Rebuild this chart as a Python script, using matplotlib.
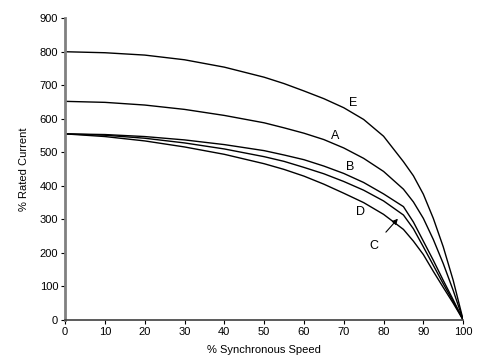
import matplotlib
matplotlib.use('Agg')
import matplotlib.pyplot as plt

# % synchronous speed (x) and % rated current for each curve
speed = [0, 10, 20, 30, 40, 50, 55, 60, 65, 70, 75, 80, 85, 87.5, 90, 92.5, 95, 97.5, 100]
curve_e = [800, 797, 790, 776, 754, 724, 705, 683, 660, 633, 598, 548, 472, 430, 375, 303, 218, 118, 0]
curve_a = [652, 649, 641, 628, 610, 588, 573, 557, 538, 513, 482, 443, 390, 352, 303, 240, 168, 88, 0]
curve_b = [555, 553, 547, 537, 523, 505, 492, 478, 459, 437, 410, 376, 338, 292, 235, 178, 118, 60, 0]
curve_c = [555, 551, 542, 528, 510, 487, 473, 455, 436, 413, 387, 355, 313, 272, 218, 163, 108, 55, 0]
curve_d = [555, 547, 534, 516, 494, 466, 449, 429, 405, 378, 350, 315, 270, 235, 195, 145, 97, 50, 0]

curves = [curve_e, curve_a, curve_b, curve_c, curve_d]

plt.rcParams['font.family'] = ['Liberation Sans', 'DejaVu Sans']

fig = plt.figure(figsize=(4.86, 3.64), dpi=100)
ax = fig.add_axes([0.134, 0.121, 0.819, 0.829])

for ys in curves:
    ax.plot(speed, ys, color='black', linewidth=1.0)

# curve labels
ax.text(72.4, 648, 'E', fontsize=9, ha='center', va='center')
ax.text(67.8, 550, 'A', fontsize=9, ha='center', va='center')
ax.text(71.6, 455, 'B', fontsize=9, ha='center', va='center')
ax.text(74.1, 322, 'D', fontsize=9, ha='center', va='center')
ax.annotate('C', xy=(83.6, 302), xytext=(77.6, 222), fontsize=9,
            ha='center', va='center',
            arrowprops=dict(arrowstyle='-|>', color='black', lw=0.8,
                            shrinkA=5, shrinkB=0, mutation_scale=8))

ax.set_xlim(0, 100)
ax.set_ylim(0, 900)
ax.set_xticks(range(0, 101, 10))
ax.set_yticks(range(0, 901, 100))
ax.tick_params(labelsize=8, direction='out', length=3, width=0.8, pad=2)

ax.spines['top'].set_visible(False)
ax.spines['right'].set_visible(False)
ax.spines['left'].set_color('#808080')
ax.spines['left'].set_linewidth(2)
ax.spines['bottom'].set_color('#404040')
ax.spines['bottom'].set_linewidth(1.2)

ax.set_xlabel('% Synchronous Speed', fontsize=8, labelpad=6)
ax.set_ylabel('% Rated Current', fontsize=8, labelpad=8)

fig.savefig('out.png', dpi=100)
